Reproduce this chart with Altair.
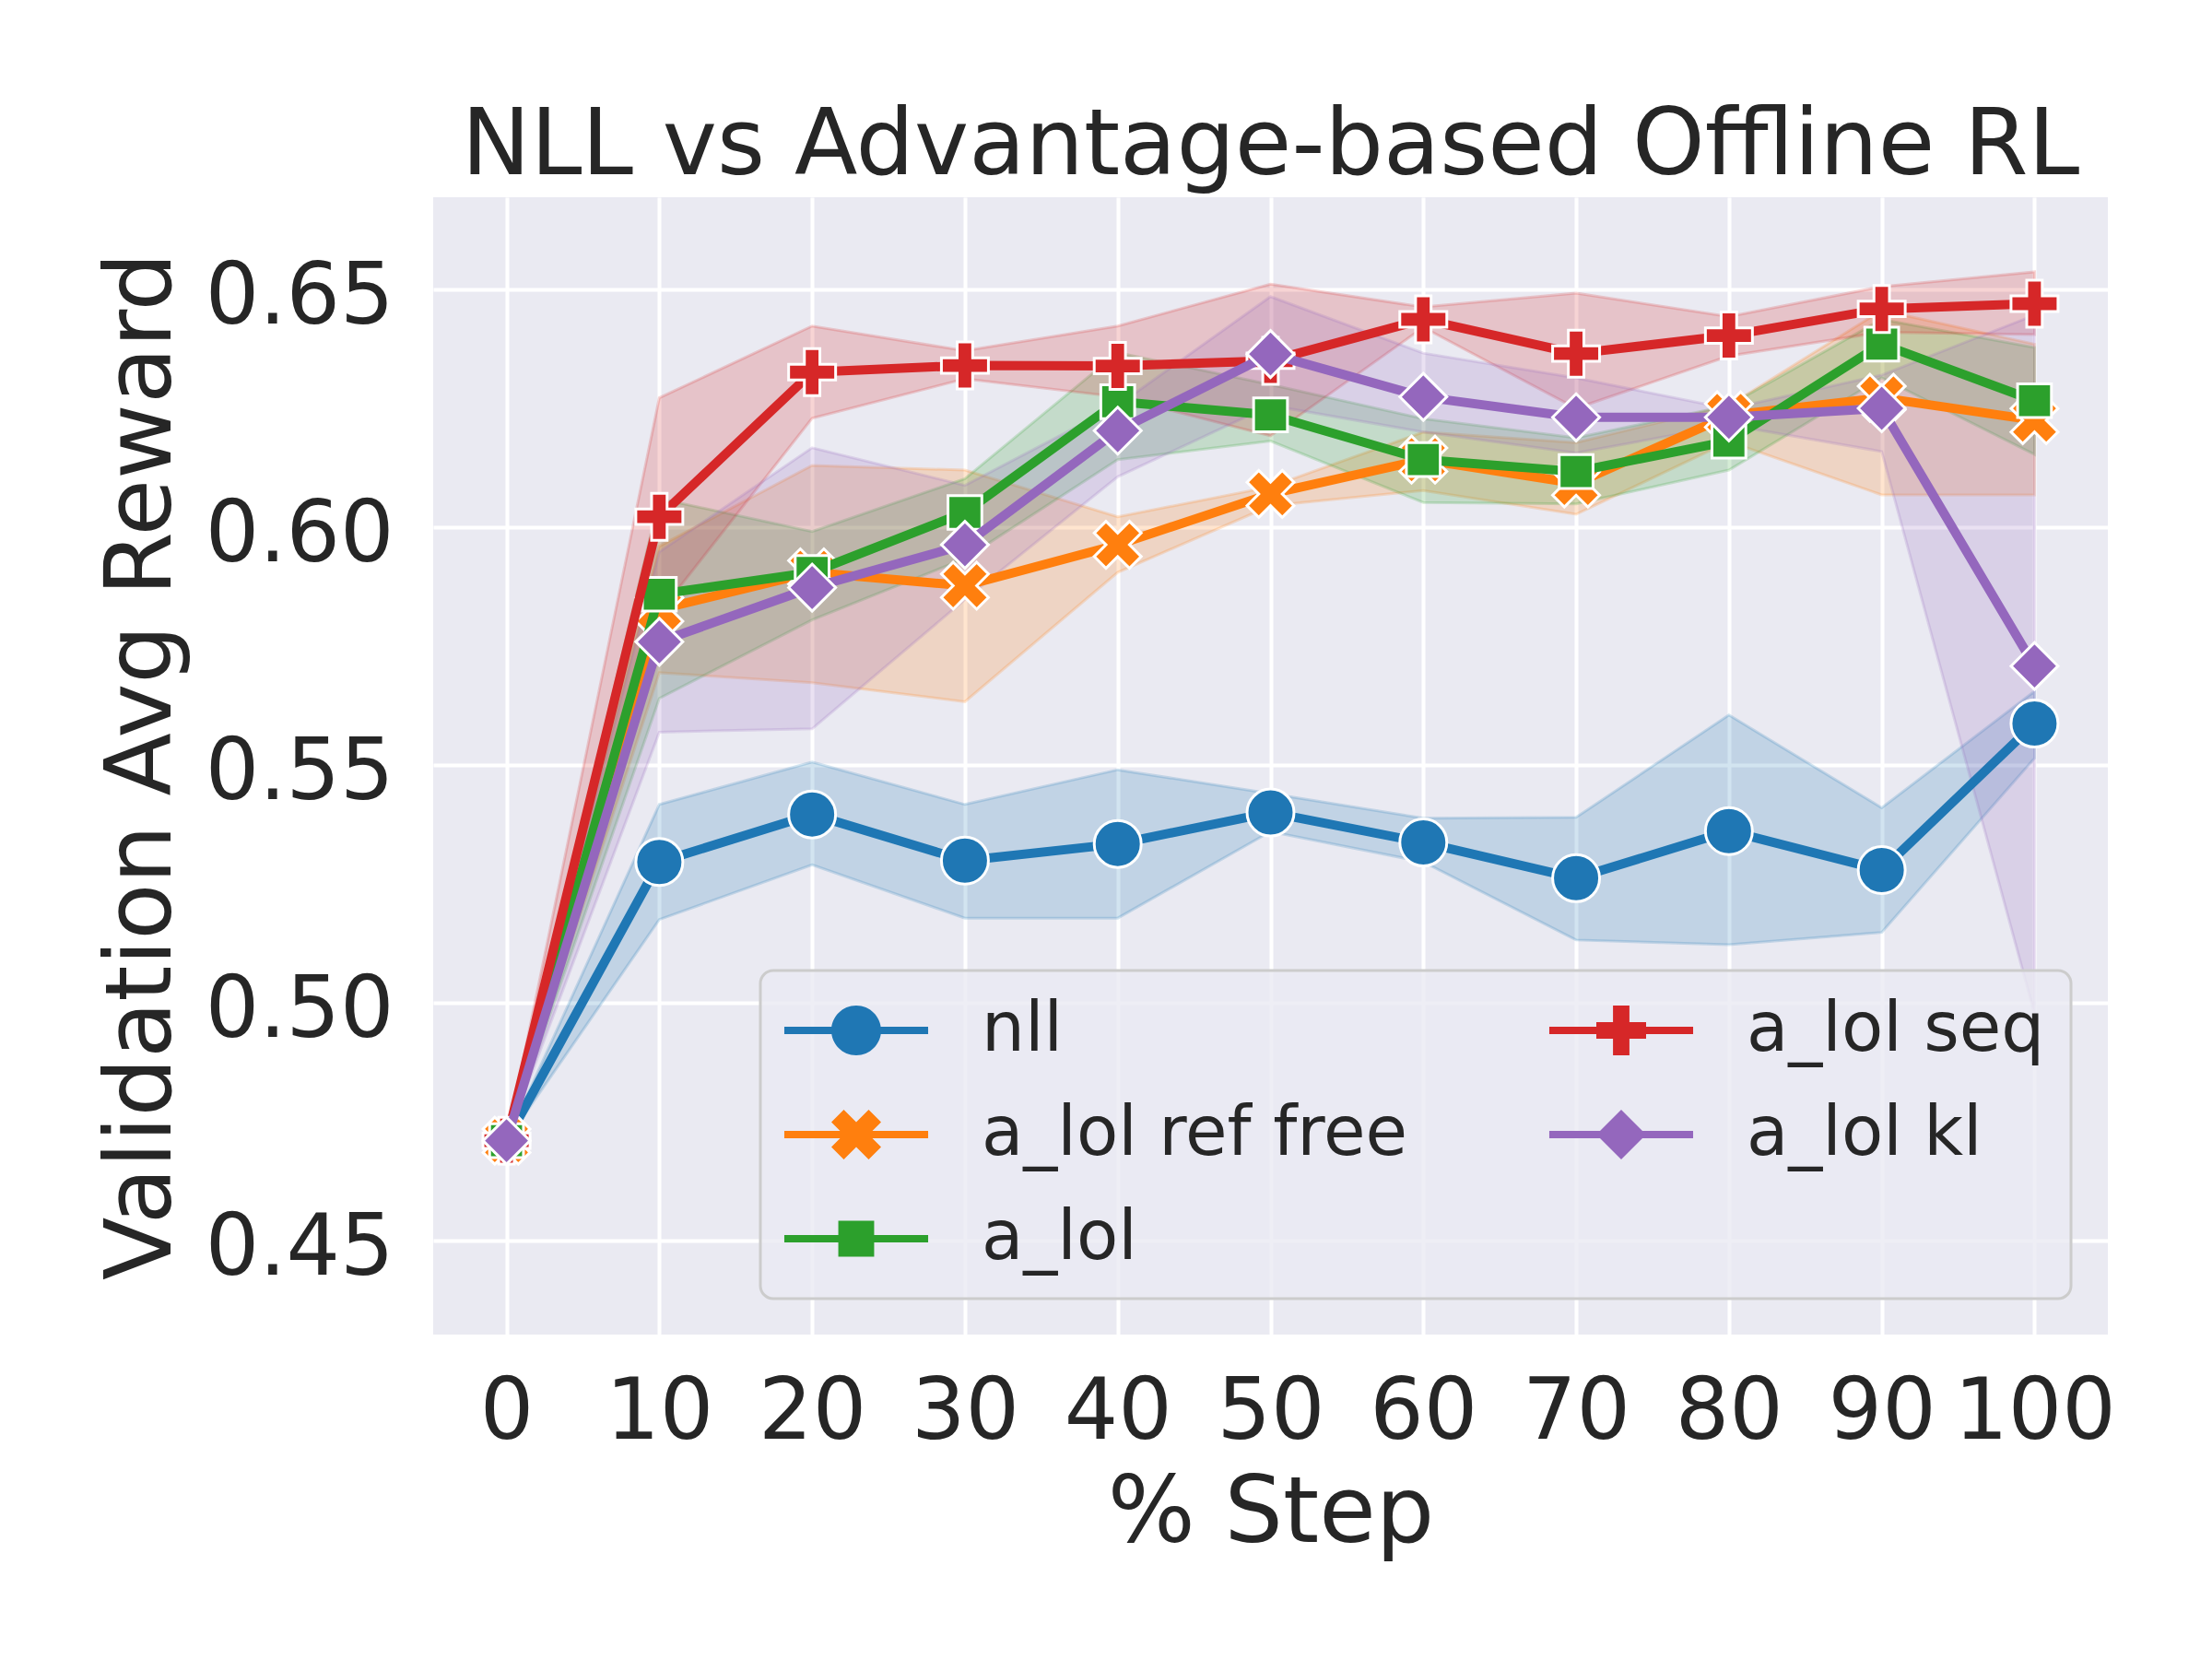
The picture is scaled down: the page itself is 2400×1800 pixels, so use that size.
import altair as alt
import pandas as pd

# ---------------- data ----------------
steps = [0, 10, 20, 30, 40, 50, 60, 70, 80, 90, 100]
series_names = ["nll", "a_lol ref free", "a_lol", "a_lol seq", "a_lol kl"]
series_colors = ["#1f77b4", "#ff7f0e", "#2ca02c", "#d62728", "#9467bd"]

nll_mean = [0.471, 0.5296, 0.5396, 0.5299, 0.5334, 0.5400, 0.5337, 0.5262, 0.5361, 0.5279, 0.5587]
nll_lo = [0.471, 0.5175, 0.5290, 0.5178, 0.5178, 0.5360, 0.5296, 0.5132, 0.5122, 0.5148, 0.5514]
nll_hi = [0.471, 0.5417, 0.5506, 0.5417, 0.5490, 0.5440, 0.5388, 0.5390, 0.5605, 0.5410, 0.5655]

reffree_mean = [0.471, 0.5827, 0.5905, 0.5877, 0.5963, 0.6070, 0.6142, 0.6092, 0.6235, 0.6272, 0.6225]
reffree_lo = [0.471, 0.5694, 0.5673, 0.5633, 0.5905, 0.6045, 0.6077, 0.6027, 0.6180, 0.6068, 0.6068]
reffree_hi = [0.471, 0.5960, 0.6130, 0.6120, 0.6022, 0.6085, 0.6200, 0.6178, 0.6256, 0.6456, 0.6385]

alol_mean = [0.471, 0.5859, 0.5905, 0.6031, 0.6264, 0.6236, 0.6142, 0.6117, 0.6181, 0.6385, 0.6266]
alol_lo = [0.471, 0.5640, 0.5805, 0.5934, 0.6142, 0.6181, 0.6052, 0.6049, 0.6120, 0.6314, 0.6153]
alol_hi = [0.471, 0.6060, 0.5991, 0.6102, 0.6367, 0.6300, 0.6228, 0.6188, 0.6256, 0.6437, 0.6378]

seq_mean = [0.471, 0.6022, 0.6326, 0.6340, 0.6339, 0.6350, 0.6437, 0.6365, 0.6403, 0.6459, 0.6470]
seq_lo = [0.471, 0.5820, 0.6229, 0.6312, 0.6274, 0.6192, 0.6420, 0.6250, 0.6360, 0.6410, 0.6405]
seq_hi = [0.471, 0.6272, 0.6423, 0.6371, 0.6423, 0.6511, 0.6463, 0.6492, 0.6443, 0.6506, 0.6537]

kl_mean = [0.471, 0.5759, 0.5873, 0.5963, 0.6203, 0.6364, 0.6274, 0.6231, 0.6231, 0.6250, 0.5708]
kl_lo = [0.471, 0.5569, 0.5576, 0.5848, 0.6106, 0.6256, 0.6200, 0.6156, 0.6215, 0.6159, 0.4977]
kl_hi = [0.471, 0.5948, 0.6167, 0.6088, 0.6256, 0.6485, 0.6366, 0.6314, 0.6249, 0.6320, 0.6446]

y_ticks = [0.45, 0.50, 0.55, 0.60, 0.65]

means = [nll_mean, reffree_mean, alol_mean, seq_mean, kl_mean]
lows = [nll_lo, reffree_lo, alol_lo, seq_lo, kl_lo]
highs = [nll_hi, reffree_hi, alol_hi, seq_hi, kl_hi]

rows = []
for name, m, lo, hi in zip(series_names, means, lows, highs):
    for i, s in enumerate(steps):
        rows.append({"step": s, "series": name, "mean": m[i], "lo": lo[i], "hi": hi[i]})
df = pd.DataFrame(rows)

# ---------------- marker shapes (unit square paths) ----------------
CIRCLE = "M-1,0A1,1,0,1,1,1,0A1,1,0,1,1,-1,0Z"
XSHAPE = "M0.5,-1L1,-0.5L0.5,0L1,0.5L0.5,1L0,0.5L-0.5,1L-1,0.5L-0.5,0L-1,-0.5L-0.5,-1L0,-0.5Z"
SQUARE = "M-0.72,-0.72H0.72V0.72H-0.72Z"
PLUS = "M-0.33,-1H0.33V-0.33H1V0.33H0.33V1H-0.33V0.33H-1V-0.33H-0.33Z"
DIAMOND = "M0,-1L1,0L0,1L-1,0Z"
data_shapes = ["circle", XSHAPE, SQUARE, PLUS, DIAMOND]
marker_paths = [CIRCLE, XSHAPE, SQUARE, PLUS, DIAMOND]
BAR = "M-2.89,-0.15H2.89V0.15H-2.89Z"
legend_paths = [BAR + " " + p for p in marker_paths]

FONT = "DejaVu Sans"
TXT = "#262626"
W, H = 1817, 1234

xscale = alt.Scale(domain=[-4.8, 104.8], nice=False, zero=False)
yscale = alt.Scale(domain=[0.43023, 0.66938], nice=False, zero=False)
xaxis = alt.Axis(values=steps, title="% Step", labelPadding=84, labelBaseline="middle",
                 labelFlush=False, labelOverlap=False, titleY=224, titleX=W / 2,
                 titleBaseline="alphabetic", titleAlign="center")
yaxis = alt.Axis(values=y_ticks, format=".2f", title="Validation Avg Reward", labelPadding=43,
                 labelFlush=False, labelOverlap=False, labelOffset=9, labelLimit=1000,
                 titleX=-286, titleY=H / 2, titleAngle=270, titleBaseline="alphabetic",
                 titleAlign="center")

base = alt.Chart(df)
xe = alt.X("step:Q", scale=xscale, axis=xaxis)

layers = []
for name, col in zip(series_names, series_colors):
    layers.append(
        base.transform_filter(alt.datum.series == name)
        .mark_area(color=col, fillOpacity=0.2, stroke=col, strokeOpacity=0.2, strokeWidth=3)
        .encode(x=xe, y=alt.Y("lo:Q", scale=yscale, axis=yaxis), y2="hi:Q")
    )
for name, col, shp in zip(series_names, series_colors, data_shapes):
    f = base.transform_filter(alt.datum.series == name)
    layers.append(
        f.mark_line(color=col, strokeWidth=10, strokeJoin="round", strokeCap="square")
        .encode(x=xe, y=alt.Y("mean:Q", scale=yscale, axis=yaxis))
    )
    layers.append(
        f.mark_point(shape=shp, size=2600, filled=True, fill=col, stroke="white",
                     strokeWidth=3, opacity=1)
        .encode(x=xe, y=alt.Y("mean:Q", scale=yscale, axis=yaxis))
    )

leg = alt.Legend(
    title=None, orient="none", legendX=355, legendY=839, columns=2,
    padding=28, symbolSize=2916, symbolOffset=39, labelOffset=99,
    rowPadding=39, columnPadding=152, labelFont=FONT, labelFontSize=74,
    labelColor=TXT, labelLimit=2000, symbolStrokeWidth=0, symbolOpacity=1,
    fillColor="rgba(234,234,242,0.8)", strokeColor="#cccccc",
    cornerRadius=14,
)
legend_layer = (
    base.transform_filter("false")
    .mark_point(filled=True, opacity=1, strokeWidth=0)
    .encode(
        x=xe,
        y=alt.Y("mean:Q", scale=yscale, axis=yaxis),
        color=alt.Color("series:N", scale=alt.Scale(domain=series_names, range=series_colors), legend=leg),
        shape=alt.Shape("series:N", scale=alt.Scale(domain=series_names, range=legend_paths), legend=leg),
    )
)
layers.append(legend_layer)

chart = (
    alt.layer(*layers)
    .properties(
        width=W, height=H,
        autosize=alt.AutoSizeParams(type="none"),
        padding={"left": 462, "top": 206, "right": 90, "bottom": 320},
        title=alt.TitleParams("NLL vs Advantage-based Offline RL", fontSize=100, font=FONT,
                              color=TXT, fontWeight="normal", anchor="middle",
                              baseline="alphabetic", offset=7, dy=82),
    )
    .configure(background="white")
    .configure_view(fill="#EAEAF2", stroke=None)
    .configure_axis(grid=True, gridColor="white", gridWidth=4, domain=False, ticks=False,
                    tickSize=0, labelFont=FONT, labelFontSize=92, labelColor=TXT, labelLimit=1000,
                    titleFont=FONT, titleFontSize=100, titleColor=TXT, titleFontWeight="normal")
    .configure_legend(strokeWidth=3)
)

chart.save("out.html", embed_options={"renderer": "svg", "actions": False})
